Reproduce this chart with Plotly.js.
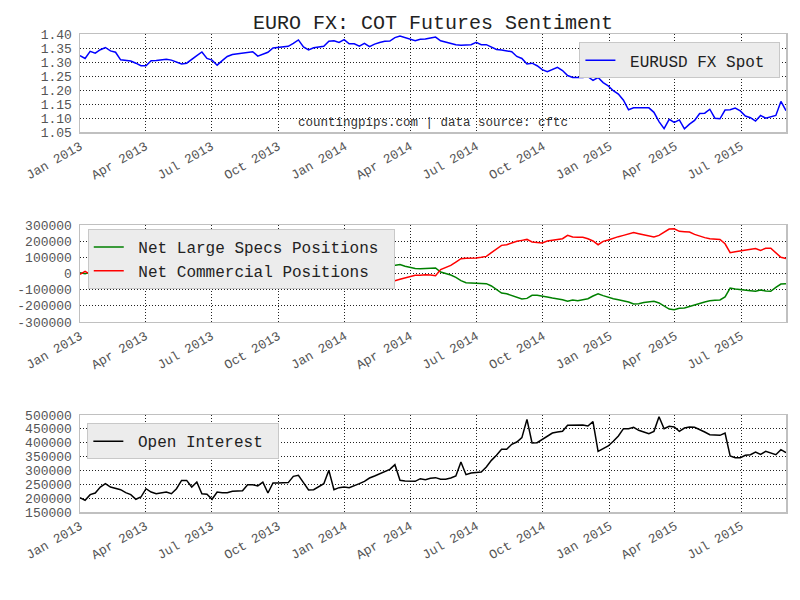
<!DOCTYPE html>
<html>
<head>
<meta charset="utf-8">
<script src="https://cdn.plot.ly/plotly-3.0.1.min.js"></script>
<style>html,body{margin:0;padding:0;background:#fff;}#chart{width:800px;height:600px;}</style>
</head>
<body>
<div id="chart"></div>
<script>
// Weekly data (Tuesdays), 2013-01-01 .. 2015-09-01
const startDate = '2013-01-01';
const weeks = 140;

const eurusd = [
1.323,1.313,1.338,1.332,1.344,1.352,1.340,1.335,1.308,1.305,
1.304,1.296,1.287,1.287,1.305,1.306,1.307,1.310,1.307,1.300,
1.293,1.296,1.308,1.323,1.336,1.313,1.307,1.289,1.305,1.320,
1.327,1.329,1.331,1.333,1.337,1.321,1.327,1.335,1.350,1.352,
1.354,1.356,1.367,1.379,1.354,1.343,1.351,1.354,1.356,1.374,
1.376,1.370,1.380,1.365,1.365,1.357,1.367,1.355,1.364,1.370,
1.374,1.375,1.387,1.393,1.387,1.380,1.376,1.381,1.382,1.386,
1.389,1.376,1.371,1.367,1.362,1.360,1.360,1.362,1.370,1.362,
1.362,1.354,1.345,1.343,1.340,1.337,1.320,1.313,1.293,1.296,
1.287,1.273,1.266,1.274,1.281,1.270,1.252,1.245,1.245,1.245,
1.248,1.235,1.245,1.227,1.215,1.198,1.186,1.164,1.130,1.137,
1.137,1.137,1.137,1.121,1.088,1.063,1.096,1.085,1.094,1.062,
1.079,1.092,1.117,1.118,1.132,1.100,1.098,1.129,1.130,1.136,
1.126,1.108,1.102,1.090,1.110,1.100,1.105,1.110,1.160,1.127
];

const netSpecs = [
5000,-2000,8000,22000,38000,42000,30000,12000,-8000,-25000,
-38000,-45000,-55000,-63000,-50000,-30000,-18000,-22000,-38000,-55000,
-80000,-83000,-58000,-32000,-15000,-5000,5000,12000,20000,25000,
28000,32000,36000,40000,45000,42000,44000,48000,55000,60000,
58000,52000,60000,62000,48000,40000,35000,30000,25000,20000,
15000,10000,6000,10000,15000,20000,24000,28000,32000,36000,
40000,45000,50000,55000,45000,36000,31000,30000,30000,30000,
34000,9000,-1000,-9000,-24000,-44000,-57000,-59000,-59000,-59000,
-63000,-77000,-100000,-121000,-125000,-135000,-147000,-158000,-154000,-135000,
-135000,-139000,-145000,-152000,-156000,-162000,-172000,-164000,-168000,-164000,
-156000,-139000,-125000,-137000,-147000,-156000,-162000,-170000,-176000,-189000,
-187000,-180000,-174000,-172000,-182000,-199000,-220000,-224000,-215000,-213000,
-203000,-191000,-185000,-176000,-168000,-166000,-164000,-145000,-90000,-96000,
-98000,-100000,-106000,-110000,-102000,-108000,-110000,-86000,-65000,-63000
];

const netCommercial = [
-5000,13000,-5000,-20000,-35000,-40000,-28000,-12000,5000,22000,
36000,45000,52000,58000,42000,25000,15000,18000,32000,50000,
72000,76000,55000,30000,15000,5000,-5000,-12000,-20000,-25000,
-28000,-32000,-35000,-38000,-42000,-38000,-40000,-45000,-59000,-65000,
-61000,-55000,-65000,-67000,-50000,-42000,-38000,-32000,-28000,-22000,
-18000,-12000,-8000,-12000,-18000,-22000,-26000,-30000,-33000,-36000,
-40000,-42000,-44000,-36000,-28000,-17000,-11000,-11000,-8000,-10000,
-14000,24000,36000,50000,71000,92000,94000,94000,96000,100000,
106000,129000,154000,174000,178000,191000,199000,205000,211000,195000,
191000,189000,201000,205000,207000,215000,236000,226000,224000,224000,
215000,201000,178000,199000,207000,220000,228000,236000,244000,253000,
246000,240000,230000,226000,236000,253000,275000,277000,261000,259000,
257000,242000,230000,222000,215000,215000,211000,184000,129000,135000,
139000,143000,147000,154000,143000,156000,156000,129000,100000,92000
];

const openInterest = [
201800,192000,212600,218600,240000,252300,240000,234000,230600,219800,
212600,195800,204000,234000,222000,216000,219800,222000,216000,234000,
264000,264000,240000,258000,216000,213800,195800,222000,219800,219800,
224600,227000,227000,248700,248700,244000,258000,218600,254700,254700,
256000,256000,278700,282300,256000,229500,230600,240000,252300,300400,
230600,237800,240000,237800,244000,252300,260700,272700,280000,288000,
294400,304000,320800,264300,262000,260700,260700,270300,266700,271500,
274000,267900,267900,272700,280000,330400,284700,290800,292000,294400,
312400,336400,354500,376100,376100,394200,402600,418200,484400,399000,
400200,412200,424200,435100,438700,441100,462700,463900,463900,463900,
460300,476000,368900,378500,388200,405000,424200,450700,450700,455500,
444700,438700,432700,441100,494000,450700,459100,456700,441100,453100,
456700,455500,448300,438700,429100,429100,426700,435100,352100,346100,
346100,354500,356900,366500,358100,368900,361700,356900,375000,364100
];

const midTickVals = [-300000,-200000,-100000,0,100000,200000,300000];
const midTickText = ['-300000','-200000','-100000','0','100000','200000','300000'];

const seriesNames = ['EURUSD FX Spot', 'Net Large Specs Positions', 'Net Commercial Positions', 'Open Interest'];

// weekly dates
const dates = [];
{
  const d0 = new Date(startDate + 'T00:00:00Z');
  for (let i = 0; i < weeks; i++) {
    const d = new Date(d0.getTime() + i * 7 * 86400000);
    dates.push(d.toISOString().slice(0, 10));
  }
}

const FONT = 'Liberation Mono, Courier New, monospace';
const NB = '\u00a0';
const pad = s => NB + s + NB;

const traces = [
  {x: dates, y: eurusd, type: 'scatter', mode: 'lines', name: pad(seriesNames[0]),
   line: {color: '#0000ff', width: 1.5}, xaxis: 'x', yaxis: 'y', legend: 'legend'},
  {x: dates, y: netSpecs, type: 'scatter', mode: 'lines', name: pad(seriesNames[1]),
   line: {color: '#008000', width: 1.5}, xaxis: 'x2', yaxis: 'y2', legend: 'legend2'},
  {x: dates, y: netCommercial, type: 'scatter', mode: 'lines', name: pad(seriesNames[2]),
   line: {color: '#ff0000', width: 1.5}, xaxis: 'x2', yaxis: 'y2', legend: 'legend2'},
  {x: dates, y: openInterest, type: 'scatter', mode: 'lines', name: pad(seriesNames[3]),
   line: {color: '#000000', width: 1.5}, xaxis: 'x3', yaxis: 'y3', legend: 'legend3'}
];

function xax(anchor) {
  return {
    type: 'date', anchor: anchor, domain: [0, 1],
    range: [dates[0], dates[dates.length - 1]],
    tick0: '2013-01-01', dtick: 'M3', tickformat: '%b %Y', tickangle: -30,
    showgrid: true, gridcolor: '#222', griddash: '1px,2px', gridwidth: 1,
    showline: true, mirror: true, linecolor: '#c0c0c0', linewidth: 1.5,
    ticks: '', zeroline: false,
    tickfont: {family: FONT, size: 13, color: '#555'}
  };
}
function yax(anchor, domain, extra) {
  return Object.assign({
    anchor: anchor, domain: domain,
    showgrid: true, gridcolor: '#222', griddash: '1px,2px', gridwidth: 1,
    showline: true, mirror: true, linecolor: '#c0c0c0', linewidth: 1.5,
    ticks: '', zeroline: false, ticklabelstandoff: 4,
    tickfont: {family: FONT, size: 13, color: '#555'}
  }, extra);
}
function leg(x, y) {
  return {x: x, y: y, xanchor: 'left', yanchor: 'top', xref: 'paper', yref: 'paper',
    bgcolor: '#ececec', bordercolor: '#c8c8c8', borderwidth: 1,
    font: {family: FONT, size: 16, color: '#222'}, tracegroupgap: 0};
}

const layout = {
  width: 800, height: 600,
  margin: {l: 80, r: 14, t: 34, b: 88},
  paper_bgcolor: '#ffffff', plot_bgcolor: '#ffffff',
  font: {family: FONT, size: 13, color: '#555'},
  title: {text: 'EURO FX: COT Futures Sentiment', font: {family: FONT, size: 20, color: '#222'},
          xref: 'paper', x: 0.5, xanchor: 'center', yref: 'container', y: 1 - 22 / 600, yanchor: 'middle'},
  showlegend: true,
  xaxis: xax('y'), xaxis2: xax('y2'), xaxis3: xax('y3'),
  yaxis: yax('x', [0.7944, 1], {range: [1.05, 1.40], dtick: 0.05, tick0: 1.05, tickformat: '.2f'}),
  yaxis2: yax('x2', [0.3975, 0.6004], {range: [-300000, 300000], tickmode: 'array', tickvals: midTickVals, ticktext: midTickText}),
  yaxis3: yax('x3', [0, 0.2029], {range: [150000, 500000], dtick: 50000, tick0: 150000, tickformat: 'd'}),
  legend: leg(0.7074, 0.9825),
  legend2: leg(0.011, 0.592),
  legend3: leg(0.0104, 0.1855),
  annotations: [{
    text: 'countingpips.com | data source: cftc', xref: 'x domain', yref: 'y domain',
    x: 0.5, y: 0.09, xanchor: 'center', yanchor: 'middle', showarrow: false,
    font: {family: FONT, size: 12.5, color: '#333'}
  }]
};

Plotly.newPlot('chart', traces, layout, {displayModeBar: false, staticPlot: true});
</script>
</body>
</html>
